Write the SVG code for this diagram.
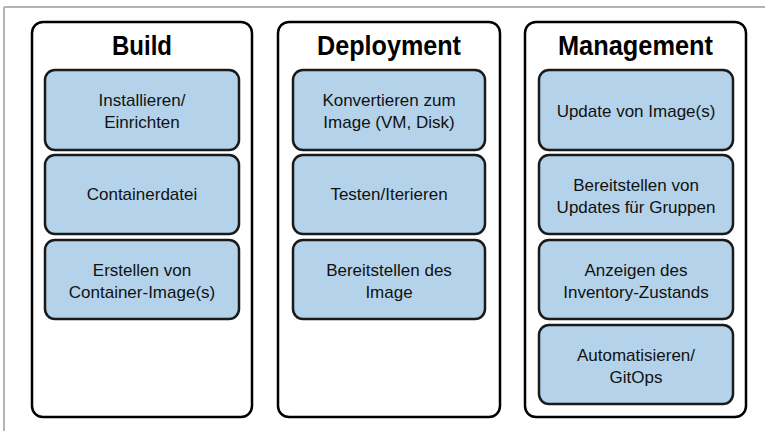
<svg xmlns="http://www.w3.org/2000/svg" width="765" height="431" viewBox="0 0 765 431">
  <style>
    .frame { stroke: #b3b3b3; stroke-width: 2; fill: none; }
    .col { fill: #ffffff; stroke: #000000; stroke-width: 2.5; }
    .step { fill: #b4d3ea; stroke: #1a1a1a; stroke-width: 2.5; }
    .title { font-family: "Liberation Sans", Arial, sans-serif; font-weight: bold; font-size: 27px; fill: #000; text-anchor: middle; }
    .label { font-family: "Liberation Sans", Arial, sans-serif; font-size: 17px; fill: #111; text-anchor: middle; }
  </style>

  <rect width="765" height="431" fill="#ffffff"/>
  <!-- page frame: top and left rules -->
  <line class="frame" x1="4" y1="7" x2="765" y2="7"/>
  <line class="frame" x1="4" y1="7" x2="4" y2="431"/>

  <!-- Build column -->
  <g id="build">
    <rect class="col" x="32" y="22" width="220" height="395" rx="11"/>
    <text class="title" x="142" y="55" textLength="60" lengthAdjust="spacingAndGlyphs">Build</text>
  </g>
  <g id="build-install">
    <rect class="step" x="45" y="70" width="194" height="80" rx="10"/>
    <text class="label" x="142" y="106">Installieren/</text>
    <text class="label" x="142" y="128">Einrichten</text>
  </g>
  <g id="build-containerfile">
    <rect class="step" x="45" y="155" width="194" height="79" rx="10"/>
    <text class="label" x="142" y="200">Containerdatei</text>
  </g>
  <g id="build-image">
    <rect class="step" x="45" y="240" width="194" height="79" rx="10"/>
    <text class="label" x="142" y="276">Erstellen von</text>
    <text class="label" x="142" y="298">Container-Image(s)</text>
  </g>

  <!-- Deployment column -->
  <g id="deployment">
    <rect class="col" x="278" y="22" width="222" height="395" rx="11"/>
    <text class="title" x="389" y="55" textLength="144" lengthAdjust="spacingAndGlyphs">Deployment</text>
  </g>
  <g id="deploy-convert">
    <rect class="step" x="293" y="70" width="192" height="80" rx="10"/>
    <text class="label" x="389" y="106">Konvertieren zum</text>
    <text class="label" x="389" y="128">Image (VM, Disk)</text>
  </g>
  <g id="deploy-test">
    <rect class="step" x="293" y="155" width="192" height="79" rx="10"/>
    <text class="label" x="389" y="200">Testen/Iterieren</text>
  </g>
  <g id="deploy-provide">
    <rect class="step" x="293" y="240" width="192" height="79" rx="10"/>
    <text class="label" x="389" y="276">Bereitstellen des</text>
    <text class="label" x="389" y="298">Image</text>
  </g>

  <!-- Management column -->
  <g id="management">
    <rect class="col" x="525" y="22" width="221" height="395" rx="11"/>
    <text class="title" x="635.5" y="55" textLength="155" lengthAdjust="spacingAndGlyphs">Management</text>
  </g>
  <g id="mgmt-update">
    <rect class="step" x="539" y="70" width="194" height="80" rx="10"/>
    <text class="label" x="636" y="117">Update von Image(s)</text>
  </g>
  <g id="mgmt-groups">
    <rect class="step" x="539" y="155" width="194" height="79" rx="10"/>
    <text class="label" x="636" y="191">Bereitstellen von</text>
    <text class="label" x="636" y="213">Updates für Gruppen</text>
  </g>
  <g id="mgmt-inventory">
    <rect class="step" x="539" y="240" width="194" height="79" rx="10"/>
    <text class="label" x="636" y="276">Anzeigen des</text>
    <text class="label" x="636" y="298">Inventory-Zustands</text>
  </g>
  <g id="mgmt-automate">
    <rect class="step" x="539" y="325" width="194" height="79" rx="10"/>
    <text class="label" x="636" y="361">Automatisieren/</text>
    <text class="label" x="636" y="383">GitOps</text>
  </g>

  <!-- no connectors between steps -->
  <g id="connectors"/>
</svg>
